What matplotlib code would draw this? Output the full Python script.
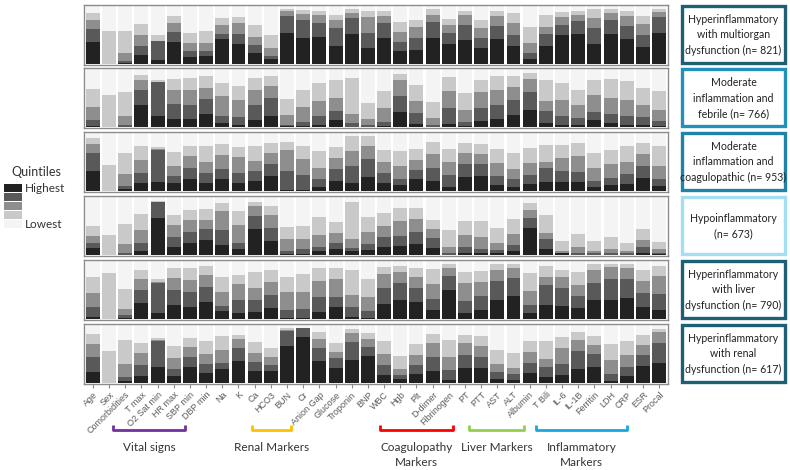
import matplotlib
matplotlib.use("Agg")
import matplotlib.pyplot as plt
from matplotlib.patches import Rectangle
import numpy as np

plt.rcParams['font.family'] = ['Lato', 'DejaVu Sans']

variables = ["Age", "Sex", "Comorbidities", "T max", "O2 Sat min", "HR max", "SBP min",
             "DBP min", "Na", "K", "Ca", "HCO3", "BUN", "Cr", "Anion Gap", "Glucose",
             "Troponin", "BNP", "WBC", "Hgb", "Plt", "D-dimer", "Fibrinogen", "PT", "PTT",
             "AST", "ALT", "Albumin", "T Bili", "IL-6", "IL-1B", "Ferritin", "LDH", "CRP",
             "ESR", "Procal"]

# cumulative share of patients (bottom -> top): top of Highest, Q4, Q3, Q2 quintile
multiorgan = [
    [0.38, 0, 0.02, 0.16, 0.08, 0.38, 0.12, 0.14, 0.44, 0.35, 0.19, 0.09, 0.54, 0.45, 0.48, 0.32, 0.52, 0.29,
     0.45, 0.23, 0.25, 0.45, 0.35, 0.42, 0.29, 0.44, 0.32, 0.09, 0.31, 0.51, 0.53, 0.35, 0.52, 0.43, 0.30, 0.54],
    [0.61, 0, 0.06, 0.31, 0.41, 0.56, 0.23, 0.24, 0.53, 0.53, 0.33, 0.15, 0.83, 0.76, 0.72, 0.62, 0.80, 0.54,
     0.71, 0.39, 0.45, 0.74, 0.54, 0.68, 0.46, 0.66, 0.51, 0.19, 0.52, 0.68, 0.75, 0.62, 0.77, 0.67, 0.51, 0.81],
    [0.76, 0, 0.20, 0.51, 0.41, 0.71, 0.37, 0.37, 0.68, 0.71, 0.48, 0.29, 0.93, 0.87, 0.85, 0.77, 0.89, 0.82,
     0.84, 0.56, 0.64, 0.86, 0.68, 0.85, 0.63, 0.83, 0.71, 0.37, 0.64, 0.82, 0.86, 0.80, 0.89, 0.83, 0.70, 0.90],
    [0.89, 0.57, 0.57, 0.70, 0.51, 0.83, 0.55, 0.58, 0.80, 0.81, 0.68, 0.51, 0.96, 0.94, 0.92, 0.85, 0.95, 0.93,
     0.92, 0.74, 0.77, 0.95, 0.79, 0.93, 0.76, 0.92, 0.88, 0.64, 0.86, 0.90, 0.92, 0.95, 0.96, 0.92, 0.83, 0.95],
]
febrile = [
    [0.03, 0, 0.01, 0.39, 0.19, 0.15, 0.15, 0.23, 0.08, 0.04, 0.12, 0.20, 0.02, 0.03, 0.05, 0.12, 0.01, 0.01,
     0.03, 0.26, 0.06, 0.01, 0.06, 0.03, 0.11, 0.15, 0.22, 0.30, 0.08, 0.05, 0.05, 0.12, 0.08, 0.05, 0.05, 0.03],
    [0.13, 0, 0.05, 0.65, 0.78, 0.40, 0.38, 0.49, 0.19, 0.18, 0.39, 0.50, 0.05, 0.10, 0.19, 0.29, 0.08, 0.04,
     0.10, 0.55, 0.25, 0.04, 0.34, 0.09, 0.33, 0.39, 0.48, 0.61, 0.28, 0.19, 0.17, 0.27, 0.23, 0.19, 0.18, 0.11],
    [0.35, 0, 0.20, 0.81, 0.79, 0.64, 0.64, 0.68, 0.54, 0.47, 0.64, 0.71, 0.22, 0.35, 0.46, 0.51, 0.23, 0.15,
     0.33, 0.81, 0.46, 0.17, 0.63, 0.30, 0.61, 0.65, 0.70, 0.84, 0.45, 0.48, 0.39, 0.56, 0.51, 0.48, 0.39, 0.30],
    [0.66, 0.56, 0.61, 0.90, 0.81, 0.84, 0.85, 0.88, 0.77, 0.72, 0.85, 0.88, 0.49, 0.65, 0.77, 0.81, 0.85, 0.42,
     0.63, 0.92, 0.73, 0.43, 0.87, 0.60, 0.81, 0.88, 0.89, 0.94, 0.82, 0.77, 0.65, 0.82, 0.84, 0.80, 0.68, 0.63],
]
coagulopathic = [
    [0.36, 0, 0.04, 0.14, 0.17, 0.15, 0.22, 0.15, 0.22, 0.15, 0.18, 0.27, 0.03, 0.02, 0.07, 0.18, 0.14, 0.25,
     0.15, 0.11, 0.22, 0.18, 0.08, 0.25, 0.27, 0.11, 0.08, 0.12, 0.17, 0.17, 0.17, 0.07, 0.11, 0.12, 0.24, 0.09],
    [0.66, 0, 0.09, 0.31, 0.72, 0.26, 0.41, 0.32, 0.39, 0.32, 0.36, 0.47, 0.35, 0.29, 0.21, 0.39, 0.43, 0.56,
     0.31, 0.22, 0.37, 0.40, 0.28, 0.47, 0.47, 0.27, 0.21, 0.29, 0.40, 0.36, 0.34, 0.18, 0.24, 0.30, 0.43, 0.22],
    [0.82, 0, 0.30, 0.55, 0.74, 0.43, 0.61, 0.51, 0.63, 0.60, 0.53, 0.67, 0.71, 0.56, 0.41, 0.57, 0.69, 0.79,
     0.51, 0.44, 0.54, 0.65, 0.50, 0.66, 0.64, 0.49, 0.38, 0.49, 0.51, 0.57, 0.61, 0.40, 0.47, 0.51, 0.64, 0.44],
    [0.92, 0.45, 0.66, 0.78, 0.77, 0.68, 0.78, 0.79, 0.81, 0.77, 0.78, 0.84, 0.85, 0.78, 0.69, 0.76, 0.95, 0.95,
     0.72, 0.69, 0.73, 0.85, 0.74, 0.84, 0.81, 0.73, 0.67, 0.75, 0.80, 0.80, 0.83, 0.67, 0.72, 0.79, 0.83, 0.79],
]
hypo = [
    [0.12, 0, 0.01, 0.07, 0.64, 0.15, 0.22, 0.27, 0.18, 0.11, 0.45, 0.25, 0.03, 0.03, 0.07, 0.11, 0.07, 0.09,
     0.14, 0.16, 0.20, 0.12, 0.01, 0.05, 0.05, 0.05, 0.07, 0.47, 0.11, 0.04, 0.01, 0.01, 0.01, 0.01, 0.04, 0.02],
    [0.22, 0, 0.05, 0.21, 0.93, 0.32, 0.41, 0.46, 0.43, 0.22, 0.68, 0.48, 0.07, 0.11, 0.15, 0.22, 0.12, 0.20,
     0.31, 0.34, 0.40, 0.30, 0.04, 0.14, 0.11, 0.09, 0.18, 0.64, 0.29, 0.05, 0.05, 0.04, 0.04, 0.04, 0.14, 0.05],
    [0.34, 0, 0.20, 0.43, 0.93, 0.52, 0.61, 0.61, 0.77, 0.53, 0.85, 0.70, 0.28, 0.28, 0.36, 0.38, 0.29, 0.41,
     0.51, 0.60, 0.63, 0.45, 0.15, 0.35, 0.31, 0.21, 0.37, 0.78, 0.38, 0.07, 0.15, 0.08, 0.11, 0.08, 0.26, 0.11],
    [0.50, 0.36, 0.54, 0.72, 0.94, 0.70, 0.79, 0.80, 0.91, 0.76, 0.93, 0.86, 0.49, 0.51, 0.66, 0.58, 0.93, 0.66,
     0.73, 0.82, 0.82, 0.61, 0.44, 0.59, 0.59, 0.47, 0.62, 0.91, 0.70, 0.25, 0.37, 0.25, 0.31, 0.22, 0.46, 0.24],
]
liver = [
    [0.05, 0, 0.02, 0.28, 0.11, 0.25, 0.22, 0.30, 0.14, 0.11, 0.12, 0.20, 0.03, 0.03, 0.12, 0.21, 0.05, 0.03,
     0.27, 0.33, 0.30, 0.17, 0.50, 0.11, 0.17, 0.34, 0.41, 0.11, 0.25, 0.24, 0.20, 0.33, 0.33, 0.37, 0.21, 0.17],
    [0.21, 0, 0.07, 0.50, 0.63, 0.50, 0.47, 0.56, 0.23, 0.33, 0.33, 0.42, 0.17, 0.18, 0.39, 0.39, 0.21, 0.14,
     0.54, 0.63, 0.54, 0.36, 0.75, 0.32, 0.41, 0.67, 0.72, 0.25, 0.59, 0.54, 0.41, 0.63, 0.69, 0.70, 0.45, 0.43],
    [0.46, 0, 0.18, 0.70, 0.65, 0.71, 0.68, 0.76, 0.47, 0.61, 0.54, 0.65, 0.47, 0.48, 0.66, 0.69, 0.42, 0.38,
     0.79, 0.82, 0.73, 0.61, 0.89, 0.63, 0.64, 0.86, 0.89, 0.49, 0.73, 0.73, 0.59, 0.86, 0.91, 0.89, 0.67, 0.75],
    [0.73, 0.80, 0.53, 0.85, 0.69, 0.88, 0.88, 0.92, 0.73, 0.77, 0.82, 0.85, 0.73, 0.78, 0.89, 0.88, 0.85, 0.69,
     0.91, 0.92, 0.89, 0.87, 0.95, 0.82, 0.83, 0.95, 0.95, 0.80, 0.92, 0.85, 0.82, 0.95, 0.96, 0.96, 0.85, 0.93],
]
renal = [
    [0.19, 0, 0.04, 0.13, 0.28, 0.13, 0.28, 0.18, 0.25, 0.39, 0.22, 0.21, 0.65, 0.80, 0.38, 0.26, 0.41, 0.47,
     0.15, 0.08, 0.16, 0.21, 0.06, 0.26, 0.27, 0.08, 0.06, 0.18, 0.11, 0.14, 0.25, 0.28, 0.05, 0.12, 0.30, 0.35],
    [0.45, 0, 0.11, 0.31, 0.73, 0.25, 0.45, 0.34, 0.36, 0.61, 0.37, 0.32, 0.91, 0.95, 0.61, 0.43, 0.72, 0.62,
     0.32, 0.15, 0.32, 0.45, 0.23, 0.49, 0.46, 0.19, 0.16, 0.35, 0.28, 0.34, 0.56, 0.51, 0.17, 0.28, 0.49, 0.69],
    [0.68, 0, 0.34, 0.52, 0.75, 0.43, 0.63, 0.51, 0.58, 0.76, 0.52, 0.45, 0.93, 0.95, 0.76, 0.55, 0.87, 0.77,
     0.51, 0.25, 0.49, 0.70, 0.46, 0.69, 0.65, 0.34, 0.27, 0.54, 0.42, 0.61, 0.75, 0.66, 0.40, 0.49, 0.66, 0.89],
    [0.86, 0.56, 0.75, 0.70, 0.78, 0.64, 0.78, 0.73, 0.81, 0.84, 0.71, 0.61, 0.95, 0.96, 0.89, 0.69, 0.94, 0.87,
     0.73, 0.48, 0.68, 0.86, 0.75, 0.83, 0.82, 0.58, 0.53, 0.74, 0.74, 0.80, 0.89, 0.82, 0.68, 0.73, 0.83, 0.94],
]

clusters = [multiorgan, febrile, coagulopathic, hypo, liver, renal]
cluster_names = ["Hyperinflammatory\nwith multiorgan\ndysfunction (n= 821)",
                 "Moderate\ninflammation and\nfebrile (n= 766)",
                 "Moderate\ninflammation and\ncoagulopathic (n= 953)",
                 "Hypoinflammatory\n(n= 673)",
                 "Hyperinflammatory\nwith liver\ndysfunction (n= 790)",
                 "Hyperinflammatory\nwith renal\ndysfunction (n= 617)"]
box_colors = ["#1d5f73", "#2290b8", "#1f82aa", "#a3def3", "#1d5f73", "#1d5f73"]

quintile_colors = ["#222222", "#595959", "#8e8e8e", "#c9c9c9", "#f4f4f4"]

groups = ["Vital signs", "Renal Markers", "Coagulopathy\nMarkers", "Liver Markers", "Inflammatory\nMarkers"]
group_colors = ["#7030a0", "#ffc000", "#ff0000", "#92d050", "#1aa7e0"]
group_spans = [(113, 185), (252, 291), (380, 453), (469, 524), (536, 627)]

W, H = 790, 470
fig = plt.figure(figsize=(W / 100, H / 100), dpi=100)

panel_tops = [5, 68, 132, 196, 260, 324]
panel_h = 60
x = np.arange(len(variables))

for i, data in enumerate(clusters):
    top = panel_tops[i]
    ax = fig.add_axes([84 / W, 1 - (top + panel_h) / H, 584 / W, panel_h / H])
    bounds = [np.zeros(len(variables))] + [np.array(r) for r in data] + [np.ones(len(variables))]
    for q in range(5):
        ax.bar(x, bounds[q + 1] - bounds[q], bottom=bounds[q], width=0.86,
               color=quintile_colors[q], edgecolor="none")
    ax.set_xlim(-0.55, len(variables) - 0.45)
    ax.set_ylim(-0.01, 1.025)
    ax.set_yticks([])
    for s in ax.spines.values():
        s.set_color("#8c8c8c")
        s.set_linewidth(1.0)
    if i == len(clusters) - 1:
        ax.set_xticks(x)
        ax.set_xticklabels(variables, rotation=45, ha="right", rotation_mode="anchor",
                           fontsize=6.5, color="#5a5a5a", family=["Liberation Sans", "DejaVu Sans"])
        ax.tick_params(axis="x", length=3, color="#8c8c8c", pad=1.5)
    else:
        ax.set_xticks([])

# overlay in pixel coordinates for labels, boxes and legend
ov = fig.add_axes([0, 0, 1, 1])
ov.set_xlim(0, W)
ov.set_ylim(H, 0)
ov.axis("off")
ov.patch.set_alpha(0)

for i, name in enumerate(cluster_names):
    top = panel_tops[i]
    ov.add_patch(Rectangle((682, top + 1), 103, panel_h - 3, facecolor="white",
                           edgecolor=box_colors[i], linewidth=2.4))
    ov.text(733.5, top + panel_h / 2, name, ha="center", va="center", fontsize=7.6,
            color="#222222", linespacing=1.5)

# quintile legend
ov.text(36, 172, "Quintiles", ha="center", va="center", fontsize=9, color="#333333")
for q in range(5):
    ov.add_patch(Rectangle((4, 184 + q * 9), 18, 8, facecolor=quintile_colors[q], edgecolor="none"))
ov.text(25, 188, "Highest", ha="left", va="center", fontsize=8.5, color="#333333")
ov.text(25, 225, "Lowest", ha="left", va="center", fontsize=8.5, color="#333333")

# variable group brackets
for label, col, (x1, x2) in zip(groups, group_colors, group_spans):
    ov.plot([x1, x1, x2, x2], [425, 430, 430, 425], color=col, lw=2, solid_capstyle="butt")
    ov.text((x1 + x2) / 2, 442, label, ha="center", va="top", fontsize=8.5,
            color="#333333", linespacing=1.4)

fig.savefig("out.png", dpi=100, facecolor="white")
